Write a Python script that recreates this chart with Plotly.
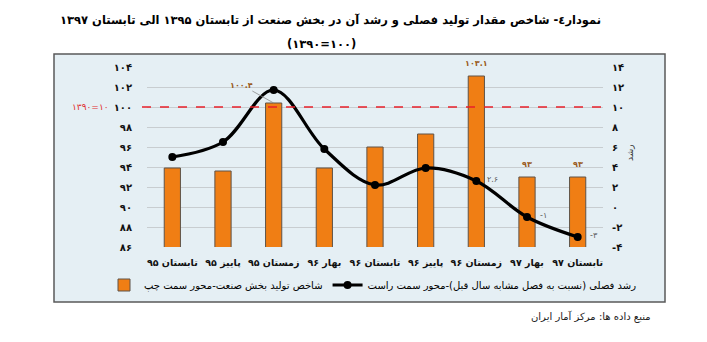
import plotly.graph_objects as go

# ---------------- data ----------------
categories = ["تابستان ۹۵", "پاییز ۹۵", "زمستان ۹۵", "بهار ۹۶", "تابستان ۹۶",
              "پاییز ۹۶", "زمستان ۹۶", "بهار ۹۷", "تابستان ۹۷"]
index_values = [93.9, 93.6, 100.4, 93.9, 96.0, 97.3, 103.1, 93.0, 93.0]   # left axis
growth_values = [5.0, 6.5, 11.7, 5.8, 2.2, 3.9, 2.6, -1.0, -3.0]          # right axis
bar_label_idx = [2, 6, 7, 8]
line_label_idx = [6, 7, 8]
left_ticks = [86, 88, 90, 92, 94, 96, 98, 100, 102, 104]
right_ticks = [-4, -2, 0, 2, 4, 6, 8, 10, 12, 14]
base_year_value = 100

title_line1 = "نمودار٤- شاخص مقدار تولید فصلی و رشد آن در بخش صنعت از تابستان ۱۳۹۵ الی تابستان ۱۳۹۷"
title_line2 = "(۱۳۹۰=۱۰۰)"
bar_name = "شاخص تولید بخش صنعت-محور سمت چپ"
line_name = "رشد فصلی (نسبت به فصل مشابه سال قبل)-محور سمت راست"
source_text = "منبع داده ها: مرکز آمار ایران"
base_label = "۱۳۹۰=۱۰"
right_title = "رشد"

FA = str.maketrans("0123456789", "۰۱۲۳۴۵۶۷۸۹")


def fa(v):
    if isinstance(v, float) and not v.is_integer():
        s = f"{v:.1f}"
    else:
        s = str(int(v))
    return s.translate(FA)


FONT = "DejaVu Sans"
W, H = 707, 342
L, R, T, B = 147, 104, 67, 95
PW, PH = W - L - R, H - T - B


def px(x):
    return (x - L) / PW


def py(y):
    return (H - B - y) / PH


fig = go.Figure()
fig.add_trace(go.Bar(
    x=categories, y=index_values, name=bar_name, yaxis="y",
    marker=dict(color="#F07E14", line=dict(color="#5E5348", width=1)),
    width=0.32,
))
fig.add_trace(go.Scatter(
    x=categories, y=growth_values, name=line_name, yaxis="y2",
    mode="lines+markers",
    line=dict(color="black", width=3.2, shape="spline", smoothing=1.0),
    marker=dict(color="black", size=8),
))

annotations = []
# bar labels
for i in bar_label_idx:
    if i == 2:
        annotations.append(dict(
            x=categories[i], y=index_values[i], xref="x", yref="y",
            text=fa(index_values[i]), showarrow=True, arrowhead=0,
            arrowwidth=0.8, arrowcolor="#8A8A8A", ax=-32, ay=-18,
            font=dict(family=FONT, size=8, color="#9A5B22", weight="bold"),
            xanchor="center"))
    else:
        annotations.append(dict(
            x=categories[i], y=index_values[i], xref="x", yref="y",
            text=fa(index_values[i]), showarrow=False, yshift=13,
            font=dict(family=FONT, size=8, color="#9A5B22", weight="bold")))
# line labels
for i in line_label_idx:
    annotations.append(dict(
        x=categories[i], y=growth_values[i], xref="x", yref="y2",
        text=fa(growth_values[i]), showarrow=False, xshift=16, yshift=2,
        font=dict(family=FONT, size=8, color="#595959")))

# title
annotations.append(dict(x=px(603), y=py(20), xref="paper", yref="paper",
                        text="<b>" + title_line1 + "</b>", showarrow=False,
                        xanchor="right", yanchor="middle",
                        font=dict(family=FONT, size=11.5, color="black")))
annotations.append(dict(x=px(321), y=py(44), xref="paper", yref="paper",
                        text="<b>" + title_line2 + "</b>", showarrow=False,
                        xanchor="center", yanchor="middle",
                        font=dict(family=FONT, size=11.5, color="black")))
# base-year label
annotations.append(dict(x=px(111), y=base_year_value, xref="paper", yref="y",
                        text=base_label, showarrow=False, xanchor="right",
                        yanchor="middle",
                        font=dict(family=FONT, size=9, color="#E03030")))
# right axis title
annotations.append(dict(x=px(637), y=py(153), xref="paper", yref="paper",
                        text=right_title, showarrow=False, textangle=-90,
                        font=dict(family=FONT, size=9, color="#333333")))
# source
annotations.append(dict(x=px(653), y=py(316), xref="paper", yref="paper",
                        text=source_text, showarrow=False, xanchor="right",
                        yanchor="middle",
                        font=dict(family=FONT, size=10, color="#222222")))

shapes = [
    dict(type="rect", xref="paper", yref="paper",
         x0=px(54), x1=px(665), y0=py(302), y1=py(54),
         fillcolor="#E5EFF4", line=dict(color="#5A5A5A", width=1.5),
         layer="below"),
    dict(type="line", xref="paper", yref="y", x0=px(142), x1=1,
         y0=base_year_value, y1=base_year_value,
         line=dict(color="#E8202A", width=1.3, dash="dash"), layer="above"),
]

tick_font = dict(family=FONT, size=10, color="#111111", weight="bold")

fig.update_layout(
    width=W, height=H,
    margin=dict(l=L, r=R, t=T, b=B, autoexpand=False),
    paper_bgcolor="white", plot_bgcolor="rgba(0,0,0,0)",
    showlegend=True,
    legend=dict(orientation="h", x=px(104), y=py(285), xanchor="left",
                yanchor="middle", bgcolor="rgba(0,0,0,0)",
                font=dict(family=FONT, size=10, color="black"),
                itemwidth=30, traceorder="normal"),
    xaxis=dict(type="category", showgrid=False, showline=False, ticks="",
               tickfont=dict(family=FONT, size=9.5, color="#111111", weight="bold"),
               ticklabelstandoff=8, range=[-0.5, 8.5]),
    yaxis=dict(range=[86, 104], tickvals=left_ticks,
               ticktext=[fa(v) for v in left_ticks],
               showgrid=True, gridcolor="#C8CDD0", gridwidth=1,
               zeroline=False, showline=False, ticks="",
               tickfont=tick_font, ticklabelstandoff=14),
    yaxis2=dict(range=[-4, 14], tickvals=right_ticks,
                ticktext=[fa(v) if v >= 0 else "-" + fa(-v) for v in right_ticks],
                overlaying="y", side="right", showgrid=False, zeroline=False,
                showline=False, ticks="", tickfont=tick_font,
                ticklabelstandoff=8),
    annotations=annotations,
    shapes=shapes,
    bargap=0.68,
)

fig.write_html("out.html")
